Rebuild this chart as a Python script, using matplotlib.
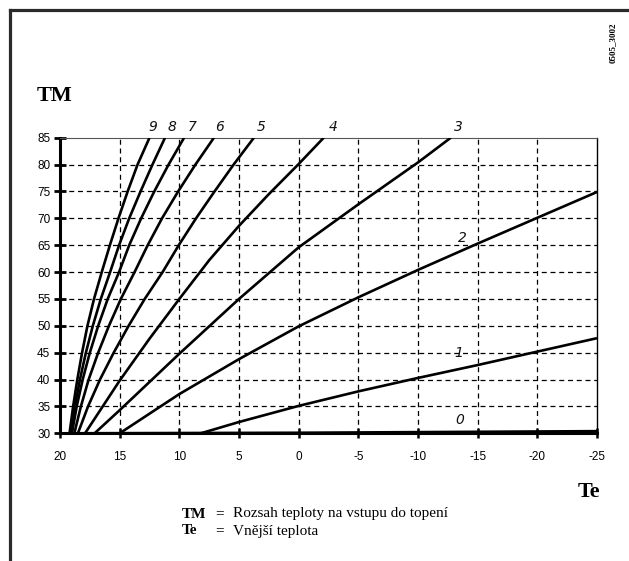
import matplotlib
matplotlib.use('Agg')
import matplotlib.pyplot as plt
from matplotlib.lines import Line2D

# ---- data (Te = outdoor temperature, TM = flow temperature) ----
curve_names = ['0', '1', '2', '3', '4', '5', '6', '7', '8', '9']

te_0 = [19.5, 0, -25]
tm_0 = [30, 30.1, 30.4]

te_1 = [8.2, 5, 0, -5, -10, -15, -20, -25]
tm_1 = [30, 32.1, 35.1, 37.8, 40.3, 42.7, 45.2, 47.7]

te_2 = [15, 10, 5, 0, -5, -10, -15, -20, -25]
tm_2 = [30, 37.3, 43.8, 49.9, 55.3, 60.4, 65.3, 70.1, 74.9]

te_3 = [17.1, 15, 10, 5, 0, -5, -10, -12.75]
tm_3 = [30, 34.3, 44.8, 55.0, 64.6, 72.6, 80.4, 85]

te_4 = [17.9, 15, 12.5, 10, 7.5, 5, 2.5, 0, -2.1]
tm_4 = [30, 39.8, 47.6, 55.0, 62.2, 68.6, 74.5, 80.1, 85]

tm_levels = [30, 35, 40, 45, 50, 55, 60, 65, 70, 75, 80, 85]
te_5 = [18.5, 17.65, 16.65, 15.5, 14.25, 12.9, 11.4, 10.05, 8.6, 7.05, 5.45, 3.75]
te_6 = [18.8, 18.25, 17.6, 16.8, 15.9, 14.9, 13.75, 12.65, 11.45, 10.1, 8.65, 7.1]
te_7 = [19.0, 18.6, 18.1, 17.5, 16.8, 16.0, 15.05, 14.2, 13.2, 12.1, 10.9, 9.6]
te_8 = [19.1, 18.75, 18.33, 17.83, 17.25, 16.58, 15.8, 15.05, 14.2, 13.25, 12.25, 11.2]
te_9 = [19.2, 18.9, 18.55, 18.15, 17.7, 17.15, 16.5, 15.82, 15.1, 14.33, 13.5, 12.5]
tm_5 = tm_6 = tm_7 = tm_8 = tm_9 = tm_levels

curves_te = [te_0, te_1, te_2, te_3, te_4, te_5, te_6, te_7, te_8, te_9]
curves_tm = [tm_0, tm_1, tm_2, tm_3, tm_4, tm_5, tm_6, tm_7, tm_8, tm_9]

x_ticks = [20, 15, 10, 5, 0, -5, -10, -15, -20, -25]
y_ticks = [30, 35, 40, 45, 50, 55, 60, 65, 70, 75, 80, 85]

# label anchor points (data coords)
label_te = [-13.5, -13.4, -13.7, -13.4, -2.9, 3.15, 6.6, 8.96, 10.6, 12.2]
label_tm = [32.5, 44.9, 66.4, 87.0, 87.0, 87.0, 87.0, 87.0, 87.0, 87.0]

W, H = 629, 561
fig = plt.figure(figsize=(W / 100, H / 100), dpi=100)
fig.patch.set_facecolor('white')

ax = fig.add_axes([60 / W, 1 - 433.3 / H, (597 - 60) / W, (433.3 - 137.7) / H])
ax.set_xlim(20, -25)
ax.set_ylim(30, 85)

# grid
for v in x_ticks[1:-1]:
    ax.axvline(v, color='black', lw=0.9, ls=(0, (4, 3)), zorder=1)
for v in y_ticks[1:-1]:
    ax.axhline(v, color='black', lw=0.9, ls=(0, (4, 3)), zorder=1)

# curves
for te, tm in zip(curves_te, curves_tm):
    ax.plot(te, tm, color='black', lw=1.9, solid_capstyle='butt',
            solid_joinstyle='round', zorder=3, clip_on=True)

# curve labels
for name, lx, ly in zip(curve_names, label_te, label_tm):
    ax.text(lx, ly, name, fontsize=10, style='italic', family='DejaVu Sans',
            ha='center', va='center', clip_on=False, color='#111111')

# spines
ax.spines['left'].set_linewidth(2.2)
ax.spines['bottom'].set_linewidth(2.2)
ax.spines['top'].set_linewidth(0.8)
ax.spines['top'].set_color('#555555')
ax.spines['right'].set_linewidth(1.0)

ax.set_xticks(x_ticks)
ax.set_yticks(y_ticks)
ax.set_xticklabels([str(v) for v in x_ticks], family='Liberation Sans', fontsize=8.5)
ax.set_yticklabels([str(v) for v in y_ticks], family='Liberation Sans', fontsize=8.5)
ax.tick_params(axis='y', direction='inout', length=8, width=2, pad=3)
ax.tick_params(axis='x', direction='inout', length=7, width=1.8, pad=9)

# axis titles
fig.text(37 / W, 1 - 96 / H, 'TM', family='Liberation Serif', weight='bold',
         fontsize=16, ha='left', va='center')
fig.text(578 / W, 1 - 492 / H, 'Te', family='Liberation Serif', weight='bold',
         fontsize=16, ha='left', va='center')

# legend text
fig.text(182 / W, 1 - 514 / H, 'TM', family='Liberation Serif', weight='bold',
         fontsize=11, ha='left', va='center')
fig.text(215 / W, 1 - 514 / H, '=', family='Liberation Serif', fontsize=11,
         ha='left', va='center')
fig.text(233 / W, 1 - 514 / H, 'Rozsah teploty na vstupu do topení',
         family='Liberation Serif', fontsize=11, ha='left', va='center')
fig.text(182 / W, 1 - 531 / H, 'Te', family='Liberation Serif', weight='bold',
         fontsize=11, ha='left', va='center')
fig.text(215 / W, 1 - 531 / H, '=', family='Liberation Serif', fontsize=11,
         ha='left', va='center')
fig.text(233 / W, 1 - 531 / H, 'Vnější teplota',
         family='Liberation Serif', fontsize=11, ha='left', va='center')

# figure id
fig.text(613 / W, 1 - 43 / H, '0505_3002', family='Liberation Serif',
         weight='bold', fontsize=6.5, rotation=90, ha='center', va='center')

# page frame (top and left)
fig.add_artist(Line2D([9.5 / W, 1], [1 - 9.5 / H, 1 - 9.5 / H],
                      transform=fig.transFigure, color='#2a2a2a', lw=2.3))
fig.add_artist(Line2D([9.5 / W, 9.5 / W], [0, 1 - 9.5 / H],
                      transform=fig.transFigure, color='#2a2a2a', lw=2.3))

fig.savefig('out.png', dpi=100, facecolor='white')
